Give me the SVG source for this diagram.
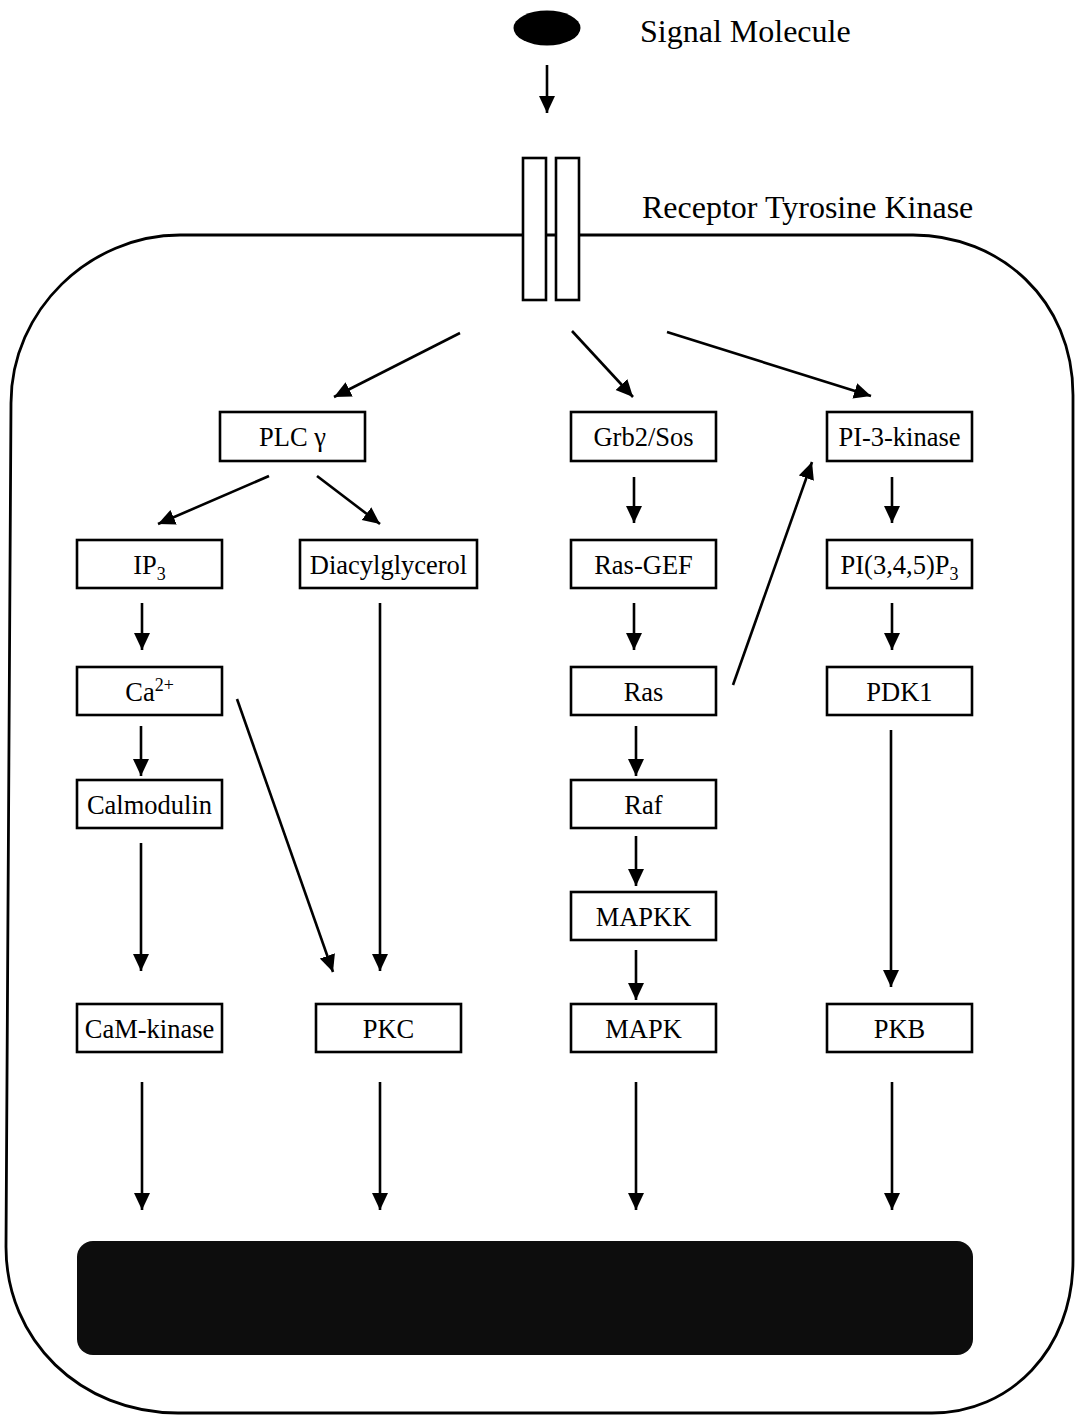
<svg xmlns="http://www.w3.org/2000/svg" width="1075" height="1415" viewBox="0 0 1075 1415">
<defs>
<marker id="ah" markerUnits="userSpaceOnUse" markerWidth="19" markerHeight="18" refX="17" refY="8" orient="auto">
<path d="M0,0 L17,8 L0,16 Z" fill="#000"/>
</marker>
<style>
.box{fill:#fff;stroke:#000;stroke-width:2.6}
.lbl{font-family:"Liberation Serif","Times New Roman",serif;font-size:26.5px;fill:#000;text-anchor:middle}
.big{font-family:"Liberation Serif","Times New Roman",serif;font-size:32px;fill:#000}
.c{fill:none;stroke:#000;stroke-width:2.6;marker-end:url(#ah)}
</style>
</defs>
<rect width="1075" height="1415" fill="#fff"/>
<g id="cell">
<path d="M180,235 L913,235 C1000,235 1073,300 1073,395 L1073,1260 C1073,1350 1010,1413 932,1413 L178,1413 C80,1413 6,1340 6,1247 L11,403 C11,310 90,235 180,235 Z" fill="none" stroke="#000" stroke-width="2.8"/>
</g>
<g id="signal">
<ellipse cx="547" cy="28" rx="33.5" ry="17.5" fill="#000"/>
<text class="big" x="640" y="42">Signal Molecule</text>
</g>
<g id="receptor">
<rect x="523" y="158" width="23" height="142" class="box"/>
<rect x="556" y="158" width="23" height="142" class="box"/>
<text class="big" x="642" y="218">Receptor Tyrosine Kinase</text>
</g>
<g id="nucleus">
<rect x="77" y="1241" width="896" height="114" rx="16" ry="16" fill="#0d0d0d"/>
</g>
<g id="plc"><rect class="box" x="220" y="412" width="145" height="49"/><text class="lbl" x="292.5" y="446">PLC γ</text></g>
<g id="grb2"><rect class="box" x="571" y="412" width="145" height="49"/><text class="lbl" x="643.5" y="446">Grb2/Sos</text></g>
<g id="pi3k"><rect class="box" x="827" y="412" width="145" height="49"/><text class="lbl" x="899.5" y="446">PI-3-kinase</text></g>
<g id="ip3"><rect class="box" x="77" y="540" width="145" height="48"/><text class="lbl" x="149.5" y="574">IP<tspan font-size="18" dy="6">3</tspan></text></g>
<g id="dag"><rect class="box" x="300" y="540" width="177" height="48"/><text class="lbl" x="388.5" y="574">Diacylglycerol</text></g>
<g id="rasgef"><rect class="box" x="571" y="540" width="145" height="48"/><text class="lbl" x="643.5" y="574">Ras-GEF</text></g>
<g id="pip3"><rect class="box" x="827" y="540" width="145" height="48"/><text class="lbl" x="899.5" y="574">PI(3,4,5)P<tspan font-size="18" dy="6">3</tspan></text></g>
<g id="ca"><rect class="box" x="77" y="667" width="145" height="48"/><text class="lbl" x="149.5" y="701">Ca<tspan font-size="18" dy="-10">2+</tspan></text></g>
<g id="ras"><rect class="box" x="571" y="667" width="145" height="48"/><text class="lbl" x="643.5" y="701">Ras</text></g>
<g id="pdk1"><rect class="box" x="827" y="667" width="145" height="48"/><text class="lbl" x="899.5" y="701">PDK1</text></g>
<g id="calmodulin"><rect class="box" x="77" y="780" width="145" height="48"/><text class="lbl" x="149.5" y="814">Calmodulin</text></g>
<g id="raf"><rect class="box" x="571" y="780" width="145" height="48"/><text class="lbl" x="643.5" y="814">Raf</text></g>
<g id="mapkk"><rect class="box" x="571" y="892" width="145" height="48"/><text class="lbl" x="643.5" y="926">MAPKK</text></g>
<g id="camk"><rect class="box" x="77" y="1004" width="145" height="48"/><text class="lbl" x="149.5" y="1038">CaM-kinase</text></g>
<g id="pkc"><rect class="box" x="316" y="1004" width="145" height="48"/><text class="lbl" x="388.5" y="1038">PKC</text></g>
<g id="mapk"><rect class="box" x="571" y="1004" width="145" height="48"/><text class="lbl" x="643.5" y="1038">MAPK</text></g>
<g id="pkb"><rect class="box" x="827" y="1004" width="145" height="48"/><text class="lbl" x="899.5" y="1038">PKB</text></g>
<g id="connectors">
<path class="c" d="M547,65 L547,113"/>
<path class="c" d="M460,333 L334,397"/>
<path class="c" d="M572,331 L633,397"/>
<path class="c" d="M667,332 L871,396"/>
<path class="c" d="M269,476 L158,524"/>
<path class="c" d="M317,476 L380,524"/>
<path class="c" d="M634,477 L634,523"/>
<path class="c" d="M892,477 L892,523"/>
<path class="c" d="M142,603 L142,650"/>
<path class="c" d="M380,603 L380,971"/>
<path class="c" d="M634,603 L634,650"/>
<path class="c" d="M892,603 L892,650"/>
<path class="c" d="M141,726 L141,776"/>
<path class="c" d="M237,699 L333,972"/>
<path class="c" d="M141,843 L141,971"/>
<path class="c" d="M733,685 L812,462"/>
<path class="c" d="M636,726 L636,776"/>
<path class="c" d="M636,836 L636,886"/>
<path class="c" d="M636,950 L636,1000"/>
<path class="c" d="M891,730 L891,987"/>
<path class="c" d="M142,1082 L142,1210"/>
<path class="c" d="M380,1082 L380,1210"/>
<path class="c" d="M636,1082 L636,1210"/>
<path class="c" d="M892,1082 L892,1210"/>
</g>
</svg>
